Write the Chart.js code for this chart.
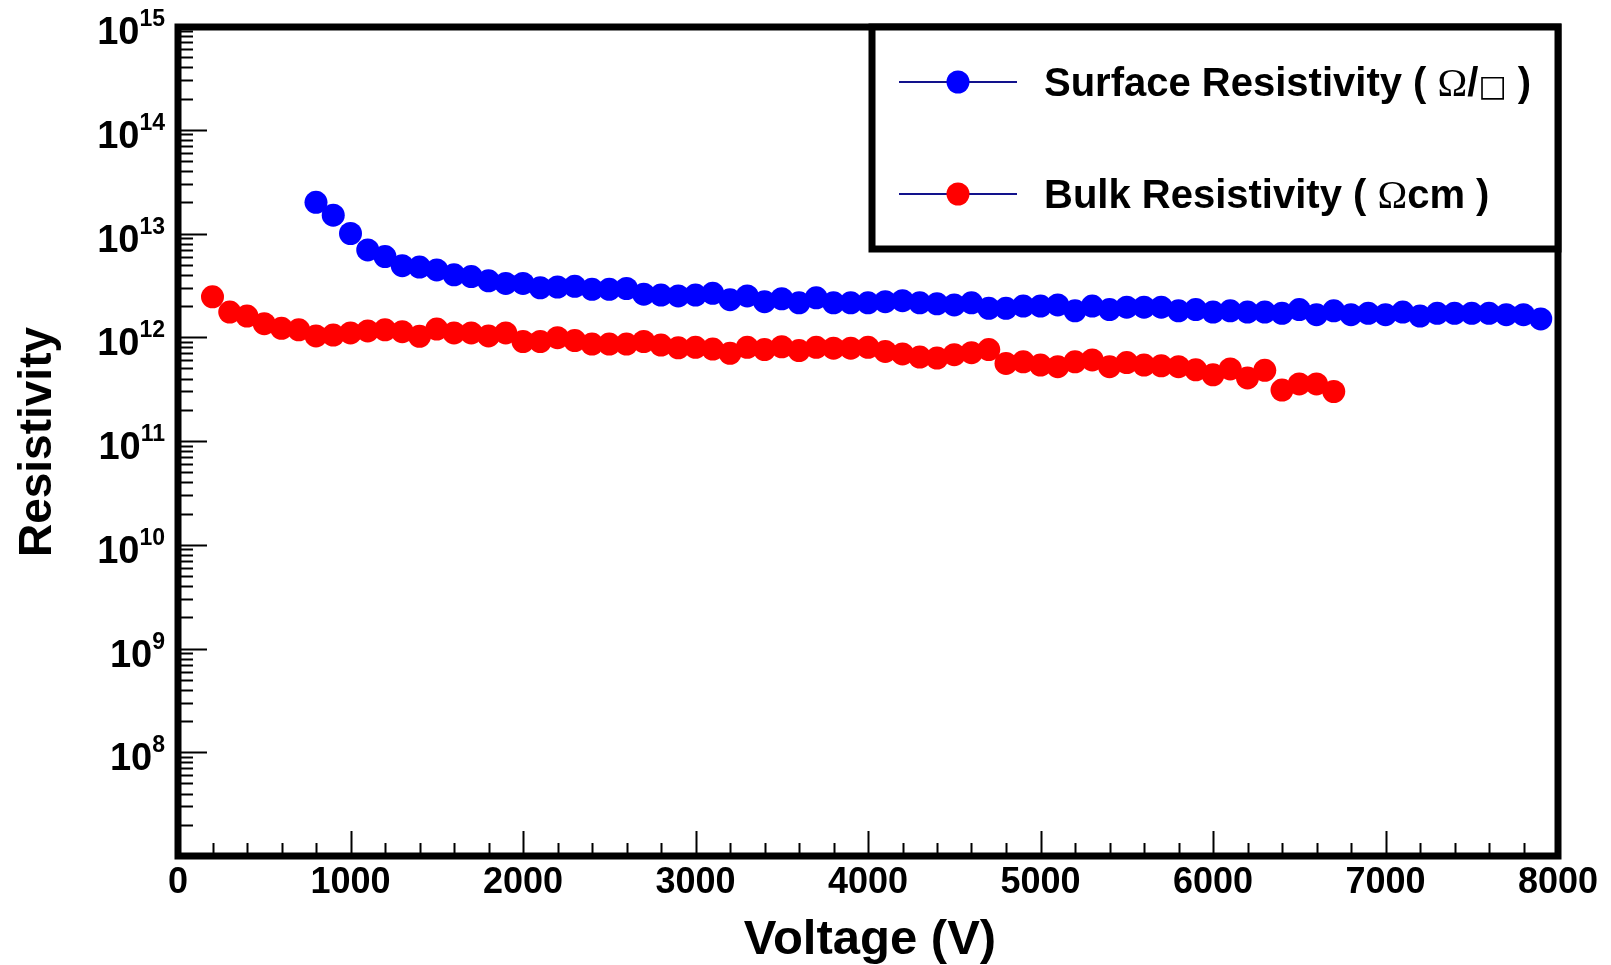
<!DOCTYPE html>
<html>
<head>
<meta charset="utf-8">
<title>Resistivity vs Voltage</title>
<script src="https://cdn.jsdelivr.net/npm/chart.js@4.4.0/dist/chart.umd.min.js"></script>
<style>
  body { margin: 0; background: #fff; }
  #myChart { display: block; }
</style>
</head>
<body>
<canvas id="myChart" width="1611" height="965"></canvas>
<script>
// data (voltage in V, resistivity)
const surfaceVoltage = [800, 900, 1000, 1100, 1200, 1300, 1400, 1500, 1600, 1700, 1800, 1900,
  2000, 2100, 2200, 2300, 2400, 2500, 2600, 2700, 2800, 2900, 3000, 3100, 3200, 3300, 3400,
  3500, 3600, 3700, 3800, 3900, 4000, 4100, 4200, 4300, 4400, 4500, 4600, 4700, 4800, 4900,
  5000, 5100, 5200, 5300, 5400, 5500, 5600, 5700, 5800, 5900, 6000, 6100, 6200, 6300, 6400,
  6500, 6600, 6700, 6800, 6900, 7000, 7100, 7200, 7300, 7400, 7500, 7600, 7700, 7800, 7900];
const surfaceRes = [2.0e13, 1.5e13, 1.0e13, 6.95e12, 6.0e12, 4.9e12, 4.75e12, 4.45e12, 4.0e12,
  3.85e12, 3.5e12, 3.3e12, 3.3e12, 3.0e12, 3.05e12, 3.1e12, 2.9e12, 2.9e12, 2.95e12, 2.6e12,
  2.55e12, 2.5e12, 2.55e12, 2.65e12, 2.3e12, 2.5e12, 2.2e12, 2.35e12, 2.15e12, 2.4e12, 2.15e12,
  2.15e12, 2.15e12, 2.2e12, 2.25e12, 2.15e12, 2.1e12, 2.05e12, 2.15e12, 1.9e12, 1.9e12, 2.0e12,
  2.0e12, 2.05e12, 1.8e12, 2.0e12, 1.85e12, 1.95e12, 1.95e12, 1.95e12, 1.8e12, 1.85e12, 1.75e12,
  1.8e12, 1.75e12, 1.75e12, 1.7e12, 1.85e12, 1.65e12, 1.8e12, 1.65e12, 1.7e12, 1.65e12, 1.75e12,
  1.6e12, 1.7e12, 1.7e12, 1.7e12, 1.7e12, 1.65e12, 1.65e12, 1.5e12];

const bulkVoltage = [200, 300, 400, 500, 600, 700, 800, 900, 1000, 1100, 1200, 1300, 1400, 1500,
  1600, 1700, 1800, 1900, 2000, 2100, 2200, 2300, 2400, 2500, 2600, 2700, 2800, 2900, 3000, 3100,
  3200, 3300, 3400, 3500, 3600, 3700, 3800, 3900, 4000, 4100, 4200, 4300, 4400, 4500, 4600, 4700,
  4800, 4900, 5000, 5100, 5200, 5300, 5400, 5500, 5600, 5700, 5800, 5900, 6000, 6100, 6200, 6300,
  6400, 6500, 6600, 6700];
const bulkRes = [2.45e12, 1.75e12, 1.6e12, 1.35e12, 1.22e12, 1.18e12, 1.03e12, 1.05e12, 1.1e12,
  1.15e12, 1.18e12, 1.13e12, 1.02e12, 1.2e12, 1.1e12, 1.1e12, 1.03e12, 1.1e12, 9.1e11, 9.1e11,
  9.9e11, 9.3e11, 8.6e11, 8.6e11, 8.6e11, 9.1e11, 8.4e11, 7.9e11, 8.0e11, 7.7e11, 7.0e11, 8.0e11,
  7.6e11, 8.1e11, 7.45e11, 8.0e11, 7.85e11, 7.85e11, 8.0e11, 7.3e11, 6.9e11, 6.45e11, 6.3e11,
  6.8e11, 7.1e11, 7.6e11, 5.6e11, 5.8e11, 5.4e11, 5.2e11, 5.8e11, 6.05e11, 5.2e11, 5.7e11, 5.4e11,
  5.3e11, 5.2e11, 4.85e11, 4.35e11, 4.95e11, 4.05e11, 4.8e11, 3.1e11, 3.55e11, 3.55e11, 3.0e11];

const seriesNames = ["Surface Resistivity ( \u03A9/\u25A1 )", "Bulk Resistivity ( \u03A9cm )"];
const xTicks = [0, 1000, 2000, 3000, 4000, 5000, 6000, 7000, 8000];
const xMinorStep = 200;
const yDecades = [7, 8, 9, 10, 11, 12, 13, 14, 15];
const yLabelDecades = [8, 9, 10, 11, 12, 13, 14, 15];

const FONT = "'Liberation Sans', Arial, Helvetica, sans-serif";
const BOLD = "bold 40px " + FONT;
const OMEGA = "40px 'Liberation Serif', 'DejaVu Serif', serif";
const SQUARE = "bold 30px 'DejaVu Sans', sans-serif";

const toPoints = (xs, ys) => xs.map((x, i) => ({ x: x, y: ys[i] }));

// legend label: Omega in a thin serif face, the rest bold
function drawLegendText(ctx, text, x, y) {
  let cx = x;
  for (const ch of text) {
    if (ch === "\u03A9") ctx.font = OMEGA;
    else if (ch === "\u25A1") ctx.font = SQUARE;
    else ctx.font = BOLD;
    ctx.fillText(ch, cx, y);
    cx += ctx.measureText(ch).width;
  }
}

// frame, inward ticks, labels, titles and legend are drawn here
const decorations = {
  id: "decorations",
  afterDraw(chart) {
    const ctx = chart.ctx;
    const xs = chart.scales.x;
    const ys = chart.scales.y;
    const a = chart.chartArea;
    ctx.save();
    ctx.strokeStyle = "#000";
    ctx.fillStyle = "#000";

    // y ticks (log, inside)
    ctx.lineWidth = 2;
    ctx.beginPath();
    yDecades.forEach(d => {
      for (let m = 1; m <= 9; m++) {
        const v = m * Math.pow(10, d);
        if (v > ys.max * 1.0001) break;
        const py = Math.round(ys.getPixelForValue(v)) + 0.5;
        const len = m === 1 ? 29 : 15;
        ctx.moveTo(a.left, py);
        ctx.lineTo(a.left + len, py);
      }
    });
    // x ticks (inside)
    for (let v = xs.min; v <= xs.max; v += xMinorStep) {
      const px = Math.round(xs.getPixelForValue(v)) + 0.5;
      const len = v % 1000 === 0 ? 25 : 13;
      ctx.moveTo(px, a.bottom);
      ctx.lineTo(px, a.bottom - len);
    }
    ctx.stroke();

    // frame
    ctx.lineWidth = 7;
    ctx.strokeRect(a.left, a.top + 1, a.right - a.left, a.bottom - a.top - 1);

    // x tick labels
    ctx.font = "bold 36px " + FONT;
    ctx.textAlign = "center";
    ctx.textBaseline = "alphabetic";
    xTicks.forEach(t => {
      ctx.fillText(String(t), xs.getPixelForValue(t), 893);
    });

    // y tick labels 10^n
    ctx.textAlign = "left";
    yLabelDecades.forEach(d => {
      const py = ys.getPixelForValue(Math.pow(10, d));
      ctx.font = "bold 23px " + FONT;
      const ew = ctx.measureText(String(d)).width;
      ctx.font = "bold 38px " + FONT;
      const bw = ctx.measureText("10").width;
      const right = 165;
      ctx.fillText("10", right - ew - bw, py + 18);
      ctx.font = "bold 23px " + FONT;
      ctx.fillText(String(d), right - ew, py);
    });

    // axis titles
    ctx.font = "bold 49px " + FONT;
    ctx.textAlign = "center";
    ctx.fillText("Voltage (V)", 870, 954);
    ctx.save();
    ctx.translate(51, 442);
    ctx.rotate(-Math.PI / 2);
    ctx.font = "bold 46px " + FONT;
    ctx.fillText("Resistivity", 0, 0);
    ctx.restore();

    // legend box
    const lx = 872, ly = a.top + 1, lr = a.right, lb = 249;
    ctx.fillStyle = "#fff";
    ctx.fillRect(lx, ly, lr - lx, lb - ly);
    ctx.lineWidth = 7;
    ctx.strokeStyle = "#000";
    ctx.strokeRect(lx, ly, lr - lx, lb - ly);
    const rows = [82, 194];
    chart.data.datasets.forEach((ds, i) => {
      const ry = rows[i];
      ctx.strokeStyle = "#12128c";
      ctx.lineWidth = 2;
      ctx.beginPath();
      ctx.moveTo(899, ry);
      ctx.lineTo(1017, ry);
      ctx.stroke();
      ctx.fillStyle = ds.backgroundColor;
      ctx.beginPath();
      ctx.arc(958, ry, 11.5, 0, Math.PI * 2);
      ctx.fill();
      ctx.fillStyle = "#000";
      ctx.textAlign = "left";
      ctx.textBaseline = "alphabetic";
      drawLegendText(ctx, ds.label, 1044, ry + 14);
    });
    ctx.restore();
  }
};

const ctx = document.getElementById("myChart").getContext("2d");
const myChart = new Chart(ctx, {
  type: "scatter",
  data: {
    datasets: [
      {
        label: seriesNames[0],
        data: toPoints(surfaceVoltage, surfaceRes),
        backgroundColor: "#0000ff",
        borderWidth: 0,
        pointRadius: 11.5,
        pointHoverRadius: 11.5,
      },
      {
        label: seriesNames[1],
        data: toPoints(bulkVoltage, bulkRes),
        backgroundColor: "#ff0000",
        borderWidth: 0,
        pointRadius: 11.5,
        pointHoverRadius: 11.5,
      },
    ],
  },
  options: {
    responsive: false,
    animation: false,
    devicePixelRatio: 1,
    layout: { padding: { left: 178, right: 53, top: 26, bottom: 109 } },
    plugins: { legend: { display: false }, tooltip: { enabled: false } },
    events: [],
    scales: {
      x: { type: "linear", min: 0, max: 8000, display: false },
      y: { type: "logarithmic", min: 1e7, max: 1e15, display: false },
    },
  },
  plugins: [decorations],
});
</script>
</body>
</html>
